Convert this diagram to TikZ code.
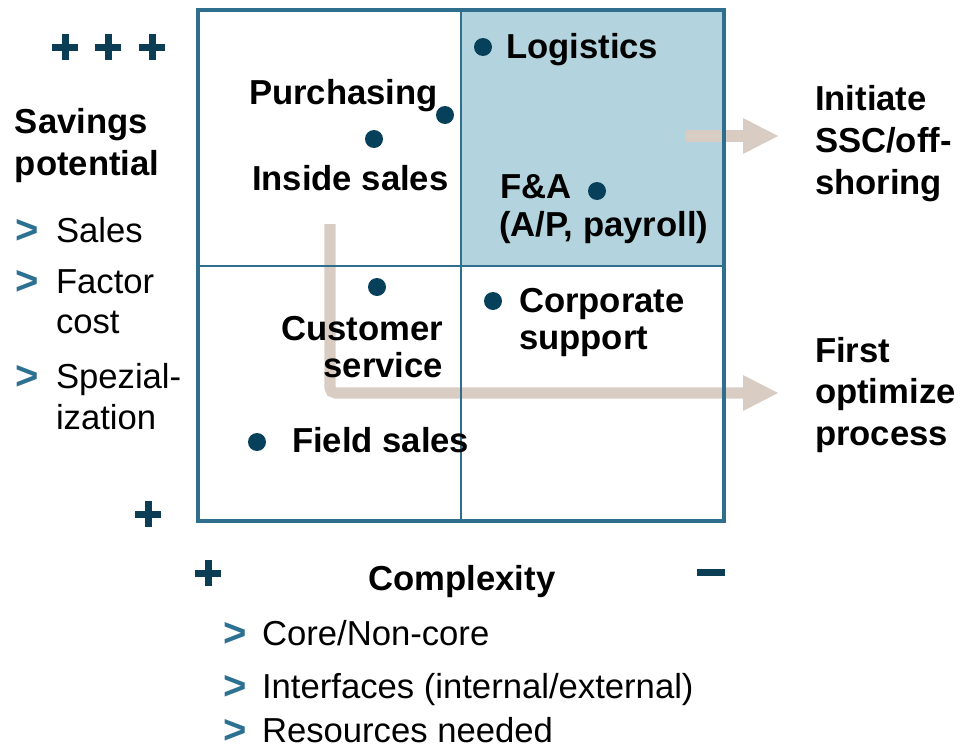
\documentclass[tikz,border=0pt]{standalone}
\usepackage{fontspec}
\setmainfont{Liberation Sans}
\definecolor{boxc}{HTML}{2F6E8C}
\definecolor{shadec}{HTML}{B3D4DE}
\definecolor{dotc}{HTML}{07405A}
\definecolor{navyc}{HTML}{0B3E55}
\definecolor{arrc}{HTML}{D9CCC3}
\definecolor{bulc}{HTML}{2D7192}
\begin{document}
\begin{tikzpicture}[x=0.75pt,y=-0.75pt,
  bl/.style={anchor=base west,inner sep=0,outer sep=0,font=\fontsize{26}{27}\selectfont\bfseries},
  br/.style={bl,anchor=base east},
  bc/.style={bl,anchor=base},
  rl/.style={anchor=base west,inner sep=0,outer sep=0,font=\fontsize{26}{30}\selectfont},
  chev/.style={anchor=base west,inner sep=0,outer sep=0,text=bulc,font=\fontsize{30}{30}\selectfont\bfseries},
  dot/.style={circle,fill=dotc,inner sep=0,minimum size=13.5pt},
  plussym/.pic={\fill[navyc] (-13,-3.5) rectangle (13,3.5); \fill[navyc] (-3.5,-13) rectangle (3.5,13);}
]
\useasboundingbox (0,0) rectangle (976,750);
% shaded quadrant
\fill[shadec] (461,10) rectangle (724,266);
% arrows
\coordinate (t0) at (686,136);
\coordinate (t1) at (743,136);
\coordinate (t2) at (778,136);
\draw[arrc,line width=8.7pt] (t0) -- (t1);
\fill[arrc] (743,118) -- (t2) -- (743,154) -- cycle;
\coordinate (b0) at (330,224);
\coordinate (b1) at (744,393);
\coordinate (b2) at (778,393);
\draw[arrc,line width=8.3pt,rounded corners=4pt] (b0) |- (b1);
\fill[arrc] (743,375) -- (b2) -- (743,411) -- cycle;
% grid
\draw[boxc,line width=1.5pt] (461,10) -- (461,521) (198,266) -- (724,266);
\draw[boxc,line width=2.4pt] (198,10) rectangle (724,521);
% dots
\node[dot] (dlog) at (483,47) {};
\node[dot] (dpur) at (445,115) {};
\node[dot] (dins) at (374,139) {};
\node[dot] (dfa) at (597,191) {};
\node[dot] (dcs) at (377,287) {};
\node[dot] (dcp) at (493,301) {};
\node[dot] (dfs) at (257,442) {};
% labels
\node[bl] (logi) at (506,58) {Logistics};
\node[bl] (purch) at (249,104) {Purchasing};
\node[bl] (insal) at (252,190) {Inside sales};
\node[bl] (fa1) at (500,198) {F\&A};
\node[bl] (fa2) at (499,236) {(A/P, payroll)};
\node[br] (cs1) at (443,340) {Customer};
\node[br] (cs2) at (443,377) {service};
\node[bl] (cp1) at (519,312) {Corporate};
\node[bl] (cp2) at (519,349) {support};
\node[bl] (field) at (292,452) {Field sales};
\node[bl] (ini1) at (815,110) {Initiate};
\node[bl] (ini2) at (815,152) {SSC/off-};
\node[bl] (ini3) at (815,194) {shoring};
\node[bl] (fo1) at (815,362) {First};
\node[bl] (fo2) at (815,403) {optimize};
\node[bl] (fo3) at (815,445) {process};
\node[bl] (sav1) at (15,133) {Savings};
\node[bl] (sav2) at (15,175) {potential};
\node[bc] (cplx) at (462,590) {Complexity};
% left bullets
\node[chev] (g1) at (16,243) {>};
\node[rl] (s1) at (56,242) {Sales};
\node[chev] (g2) at (16,294) {>};
\node[rl] (f1) at (56,293) {Factor};
\node[rl] (f2) at (56,333) {cost};
\node[chev] (g3) at (16,389) {>};
\node[rl] (sp1) at (56,388) {Spezial-};
\node[rl] (sp2) at (56,429) {ization};
% bottom bullets
\node[chev] (h1) at (223,646) {>};
\node[rl] (c1) at (262,645) {Core/Non-core};
\node[chev] (h2) at (223,699) {>};
\node[rl] (c2) at (262,698) {Interfaces (internal/external)};
\node[chev] (h3) at (223,743) {>};
\node[rl] (c3) at (262,742) {Resources needed};
% plus / minus signs
\pic at (65,47) {plussym};
\pic at (108,47) {plussym};
\pic at (152,47) {plussym};
\pic at (148,514) {plussym};
\pic at (208,573) {plussym};
\fill[navyc] (697,568.5) rectangle (725,575.5);
\end{tikzpicture}
\end{document}
